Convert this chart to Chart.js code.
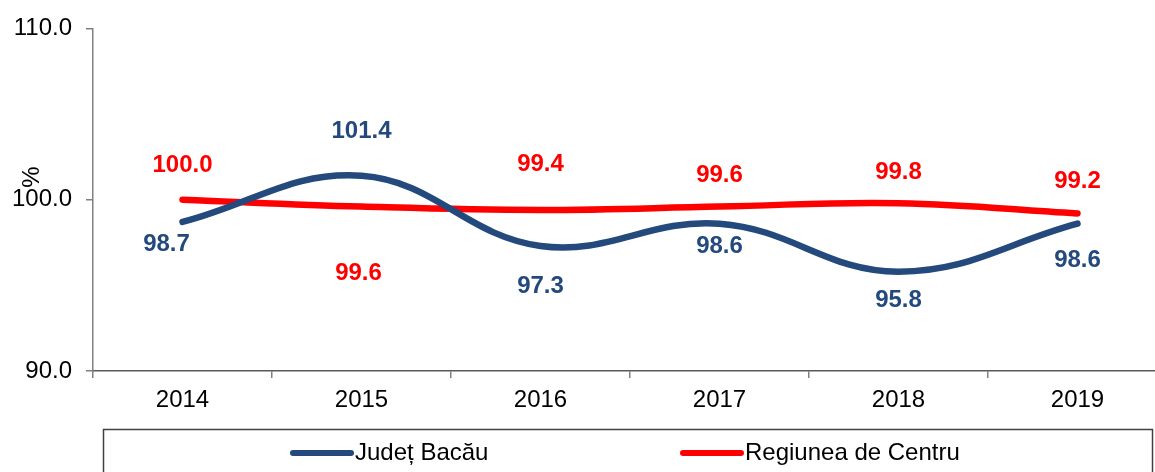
<!DOCTYPE html>
<html>
<head>
<meta charset="utf-8">
<script src="https://cdn.jsdelivr.net/npm/chart.js@4/dist/chart.umd.min.js"></script>
<style>
    html, body { margin: 0; padding: 0; background: #fff; overflow: hidden; }
    #wrap { width: 1175px; height: 472px; }
</style>
</head>
<body>
<div id="wrap"><canvas id="trendChart" width="1175" height="472"></canvas></div>
<script>
const years = ['2014', '2015', '2016', '2017', '2018', '2019'];
const bacau = [98.7, 101.4, 97.3, 98.6, 95.8, 98.6];
const centru = [100.0, 99.6, 99.4, 99.6, 99.8, 99.2];
const yTicks = [90, 100, 110];

// label placement relative to each point (px): [dx, dy]
const bacauLabelPos = [[-16, 22], [0, -44], [0, 40], [0, 23], [0, 29], [0, 37]];
const centruLabelPos = [[0, -34], [-3, 67], [0, -46], [0, -31], [0, -31], [0, -32]];

const BLUE = '#24497c';
const RED = '#ff0000';
const FONT = "'Liberation Sans', Arial, sans-serif";

// value labels next to the points
const valueLabels = {
    id: 'valueLabels',
    afterDatasetsDraw(chart) {
        const ctx = chart.ctx;
        const x = chart.scales.x, y = chart.scales.y;
        const sets = [[bacau, bacauLabelPos, BLUE], [centru, centruLabelPos, RED]];
        ctx.save();
        ctx.font = 'bold 24px ' + FONT;
        ctx.textAlign = 'center';
        ctx.textBaseline = 'middle';
        sets.forEach(([vals, pos, color]) => {
            ctx.fillStyle = color;
            vals.forEach((v, i) => {
                const px = x.getPixelForValue(i) + pos[i][0];
                const py = y.getPixelForValue(v) + pos[i][1];
                ctx.fillText(v.toFixed(1), px, py);
            });
        });
        ctx.restore();
    }
};

// "%" unit beside the y axis
const unitLabel = {
    id: 'unitLabel',
    afterDraw(chart) {
        const ctx = chart.ctx;
        ctx.save();
        ctx.translate(32, 177);
        ctx.rotate(-Math.PI / 2);
        ctx.font = '24px ' + FONT;
        ctx.fillStyle = '#000';
        ctx.textAlign = 'center';
        ctx.textBaseline = 'middle';
        ctx.fillText('%', 0, 0);
        ctx.restore();
    }
};

// boxed legend under the axis
const boxLegend = {
    id: 'boxLegend',
    afterDraw(chart) {
        const ctx = chart.ctx;
        const items = [[293, 0], [683, 1]];
        ctx.save();
        ctx.strokeStyle = '#404040';
        ctx.lineWidth = 1.5;
        ctx.strokeRect(103.5, 429.5, 1049, 60);
        ctx.font = '24px ' + FONT;
        ctx.textBaseline = 'middle';
        ctx.textAlign = 'left';
        items.forEach(([lx, di]) => {
            const ds = chart.data.datasets[di];
            ctx.strokeStyle = ds.borderColor;
            ctx.lineWidth = 6;
            ctx.lineCap = 'round';
            ctx.beginPath();
            ctx.moveTo(lx, 453);
            ctx.lineTo(lx + 58, 453);
            ctx.stroke();
            ctx.fillStyle = '#000';
            ctx.fillText(ds.label, lx + 62, 453);
        });
        ctx.restore();
    }
};

new Chart(document.getElementById('trendChart'), {
    type: 'line',
    data: {
        labels: years,
        datasets: [
            { label: 'Județ Bacău', data: bacau, borderColor: BLUE, borderWidth: 6.5, tension: 0.4, pointRadius: 0, borderCapStyle: 'round' },
            { label: 'Regiunea de Centru', data: centru, borderColor: RED, borderWidth: 6.5, tension: 0.4, pointRadius: 0, borderCapStyle: 'round' }
        ]
    },
    options: {
        responsive: false,
        animation: false,
        layout: { padding: { top: 28, right: 8, bottom: 51, left: 0 } },
        plugins: {
            legend: { display: false },
            tooltip: { enabled: false }
        },
        scales: {
            x: {
                offset: true,
                grid: { offset: true, drawOnChartArea: false, tickLength: 7, color: '#808080', lineWidth: 1.5 },
                border: { color: '#595959', width: 1.5 },
                ticks: { color: '#000', font: { family: FONT, size: 24 }, padding: 8, maxRotation: 0 },
                afterFit(scale) { scale.height = 50; }
            },
            y: {
                min: 90,
                max: 110,
                afterBuildTicks(scale) { scale.ticks = yTicks.map(v => ({ value: v })); },
                grid: { drawOnChartArea: false, tickLength: 7, color: '#808080', lineWidth: 1.5 },
                border: { color: '#808080', width: 1.5 },
                ticks: { color: '#000', font: { family: FONT, size: 24 }, padding: 14, callback: v => v.toFixed(1) },
                afterFit(scale) { scale.width = 93; }
            }
        }
    },
    plugins: [valueLabels, unitLabel, boxLegend]
});
</script>
</body>
</html>
